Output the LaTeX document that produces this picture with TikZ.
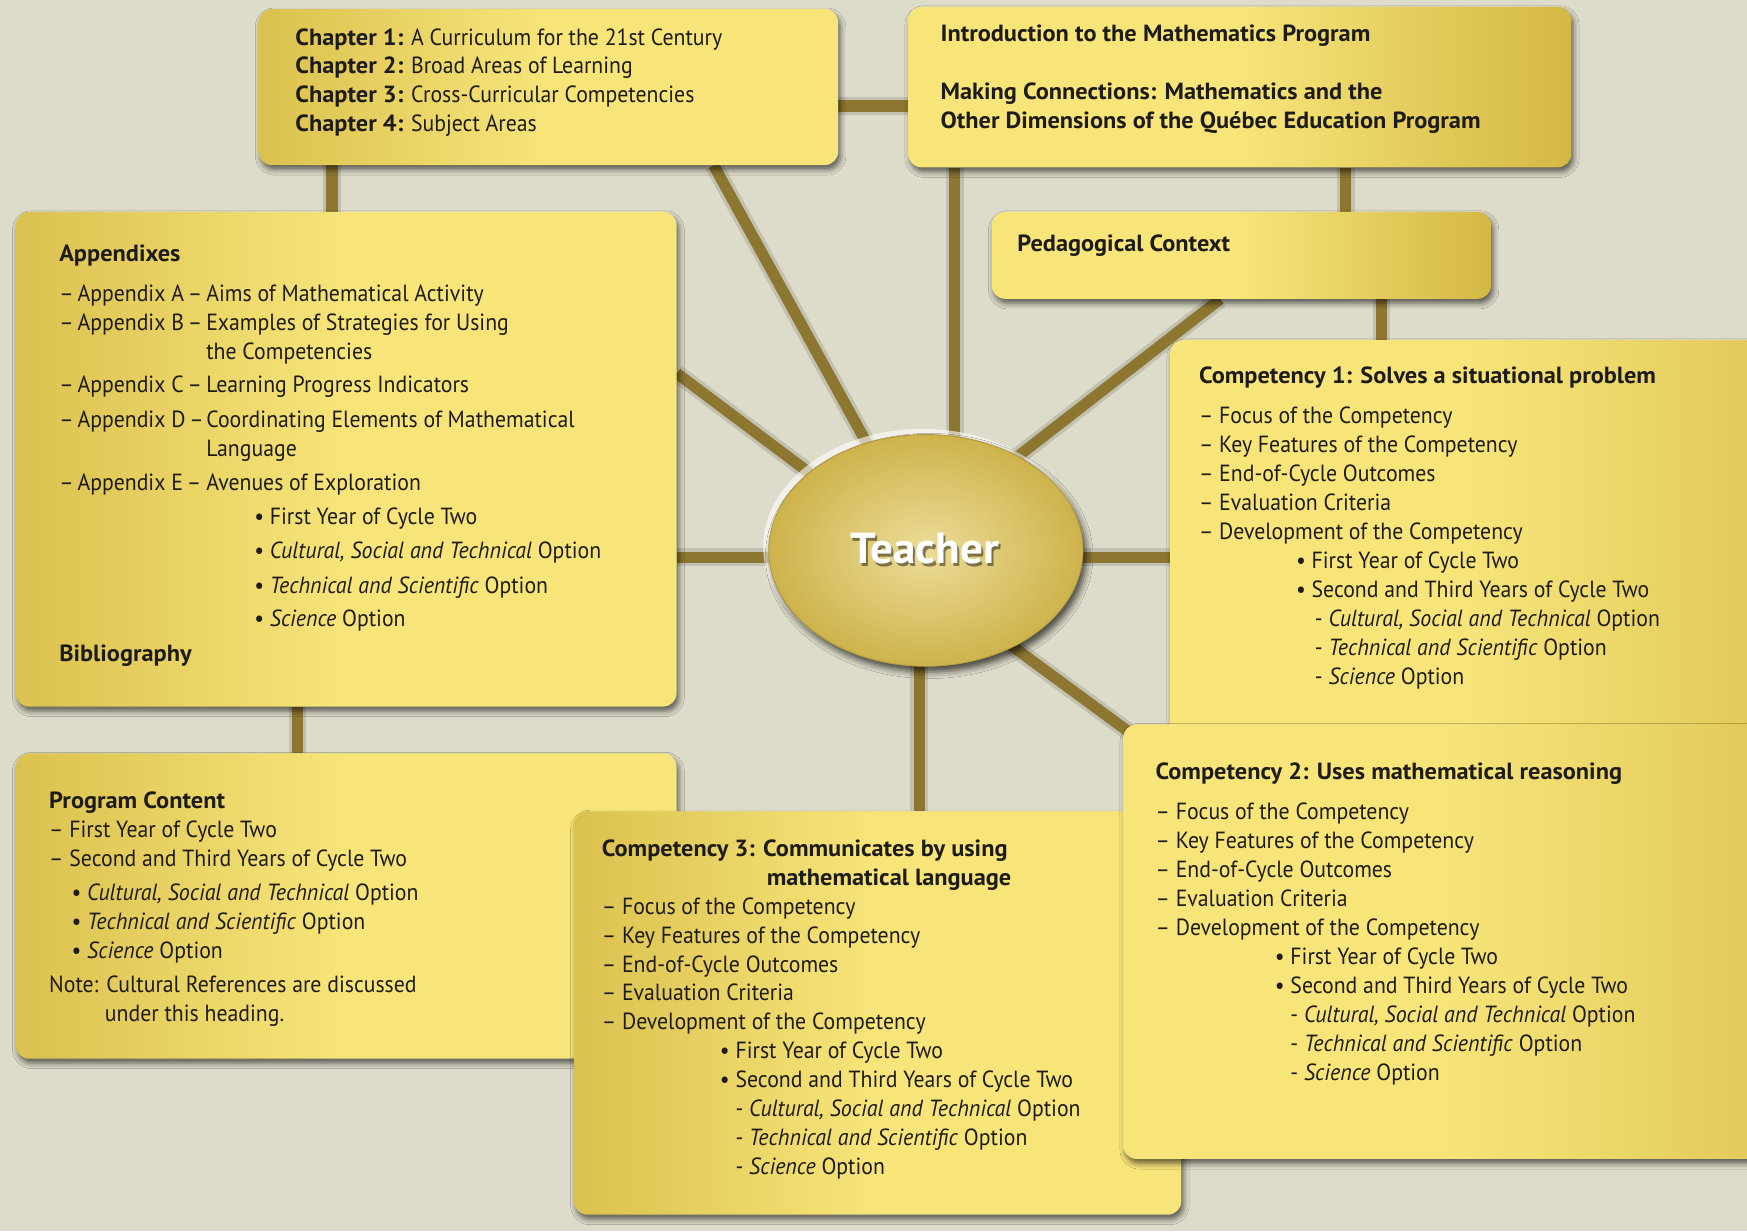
\documentclass[tikz,border=0pt]{standalone}
\usepackage{fontspec}
\setmainfont{PT Sans}[UprightFeatures={FakeStretch=0.93}, ItalicFeatures={FakeStretch=0.94},
  BoldFeatures={FakeStretch=1.04}, BoldItalicFeatures={FakeStretch=1.04}]
\usetikzlibrary{shapes.geometric,shadows.blur,calc}
\definecolor{bgcol}{RGB}{221,220,202}
\definecolor{spokecol}{RGB}{141,118,48}
\definecolor{ybright}{RGB}{247,229,122}
\definecolor{ydark}{RGB}{212,184,68}
\definecolor{ellout}{RGB}{206,179,76}
\definecolor{ellin}{RGB}{236,220,152}
\definecolor{txt}{RGB}{30,28,26}
\pgfdeclarelayer{bg}
\pgfsetlayers{bg,main}
\newcommand\applabel[1]{\makebox[132pt][l]{–\hspace{3.5pt}Appendix #1\hspace{3.5pt}–}}
\tikzset{
  box/.style={rounded corners=12pt, inner sep=0pt, anchor=north west,
    blur shadow={shadow xshift=2pt, shadow yshift=-4pt, shadow blur radius=5pt, shadow opacity=60}},
  darkleft/.style={left color=ydark!80!ybright, right color=ybright, middle color=ybright},
  darkright/.style={left color=ybright, right color=ydark, middle color=ybright},
  lightright/.style={left color=ybright, right color=ydark!60!ybright, middle color=ybright},
  body/.style={inner sep=0pt, anchor=north west, align=left, text=txt,
    font=\fontsize{21}{26}\selectfont},
  spoke/.style={draw=spokecol, line width=10pt},
  spokeshade/.style={draw=black, opacity=.12, line width=16pt},
  teacherfont/.style={font=\bfseries\fontsize{39}{40}\selectfont},
}
\begin{document}
\begin{tikzpicture}[x=1pt,y=-1pt]
\useasboundingbox (0,0) rectangle (1568,1105);

% boxes and their texts
\node[box, darkleft, minimum width=520pt, minimum height=140pt] (chap) at (232,8) {};
\node[body] (chaptxt) at (265,22) {\strut\textbf{Chapter 1:} A Curriculum for the 21st Century\\
  \textbf{Chapter 2:} Broad Areas of Learning\\
  \textbf{Chapter 3:} Cross-Curricular Competencies\\
  \textbf{Chapter 4:} Subject Areas};

\node[box, darkright, minimum width=595pt, minimum height=144pt] (intro) at (815,6) {};
\node[body, font=\bfseries\fontsize{21}{26}\selectfont] (introtxt) at (844,19) {\strut Introduction to the Mathematics Program\\[26pt]
  Making Connections: Mathematics and the\\
  Other Dimensions of the Québec Education Program};

\node[box, darkright, minimum width=448pt, minimum height=78pt] (ped) at (890,190) {};
\node[body, font=\bfseries\fontsize{21}{26}\selectfont] (pedtxt) at (913,207) {\strut Pedagogical Context};

\node[box, darkleft, minimum width=593pt, minimum height=444pt] (app) at (14,190) {};
\node[body] (apptxt) at (53,216) {\strut\textbf{Appendixes}\\[10pt]
  \applabel{A}Aims of Mathematical Activity\\
  \applabel{B}Examples of Strategies for Using\\
  \hspace*{132pt}the Competencies\\[4pt]
  \applabel{C}Learning Progress Indicators\\[5pt]
  \applabel{D}Coordinating Elements of Mathematical\\
  \hspace*{132pt}Language\\[5pt]
  \applabel{E}Avenues of Exploration\\[4pt]
  \hspace*{175pt}• First Year of Cycle Two\\[5pt]
  \hspace*{175pt}• \textit{Cultural, Social and Technical} Option\\[5pt]
  \hspace*{175pt}• \textit{Technical and Scientific} Option\\[4pt]
  \hspace*{175pt}• \textit{Science} Option\\[5pt]
  \textbf{Bibliography}};

\node[box, darkleft, minimum width=593pt, minimum height=274pt] (prog) at (14,676) {};
\node[body] (progtxt) at (44,707) {\strut\textbf{Program Content}\\
  – First Year of Cycle Two\\
  – Second and Third Years of Cycle Two\\[5pt]
  \hspace*{20pt}• \textit{Cultural, Social and Technical} Option\\
  \hspace*{20pt}• \textit{Technical and Scientific} Option\\
  \hspace*{20pt}• \textit{Science} Option\\[4pt]
  Note: Cultural References are discussed\\
  \hspace*{50pt}under this heading.};

\node[box, darkleft, minimum width=545pt, minimum height=362pt] (comp3) at (515,728) {};
\node[body] (comp3txt) at (540,750) {\strut\textbf{Competency 3: Communicates by using}\\
  \hspace*{148pt}\textbf{mathematical language}\\
  – Focus of the Competency\\
  – Key Features of the Competency\\
  – End-of-Cycle Outcomes\\
  – Evaluation Criteria\\
  – Development of the Competency\\
  \hspace*{106pt}• First Year of Cycle Two\\
  \hspace*{106pt}• Second and Third Years of Cycle Two\\
  \hspace*{120pt}- \textit{Cultural, Social and Technical} Option\\
  \hspace*{120pt}- \textit{Technical and Scientific} Option\\
  \hspace*{120pt}- \textit{Science} Option};

\node[box, lightright, minimum width=530pt, minimum height=370pt] (comp1) at (1050,305) {};
\node[body] (comp1txt) at (1076,326) {\strut\textbf{Competency 1: Solves a situational problem}\\[10pt]
  – Focus of the Competency\\
  – Key Features of the Competency\\
  – End-of-Cycle Outcomes\\
  – Evaluation Criteria\\
  – Development of the Competency\\
  \hspace*{87pt}• First Year of Cycle Two\\
  \hspace*{87pt}• Second and Third Years of Cycle Two\\
  \hspace*{104pt}- \textit{Cultural, Social and Technical} Option\\
  \hspace*{104pt}- \textit{Technical and Scientific} Option\\
  \hspace*{104pt}- \textit{Science} Option};

\node[box, lightright, minimum width=572pt, minimum height=390pt] (comp2) at (1008,650) {};
\node[body] (comp2txt) at (1037,681) {\strut\textbf{Competency 2: Uses mathematical reasoning}\\[10pt]
  – Focus of the Competency\\
  – Key Features of the Competency\\
  – End-of-Cycle Outcomes\\
  – Evaluation Criteria\\
  – Development of the Competency\\
  \hspace*{107pt}• First Year of Cycle Two\\
  \hspace*{107pt}• Second and Third Years of Cycle Two\\
  \hspace*{121pt}- \textit{Cultural, Social and Technical} Option\\
  \hspace*{121pt}- \textit{Technical and Scientific} Option\\
  \hspace*{121pt}- \textit{Science} Option};

% central ellipse
\node[ellipse, fill=white, opacity=.6, minimum width=286pt, minimum height=212pt] (teacherglow) at (828,491) {};
\node[ellipse, inner color=ellin, outer color=ellout, draw=ellout!85!black, line width=.8pt,
  minimum width=282pt, minimum height=208pt,
  blur shadow={shadow xshift=3pt, shadow yshift=-5pt, shadow blur radius=6pt, shadow opacity=70}] (teacher) at (831,494) {};
\node[teacherfont, text=black, opacity=.45] (teachershade) at (832,495) {Teacher};
\node[teacherfont, text=white] (teachertxt) at (830,492) {Teacher};

% connectors behind everything
\begin{pgfonlayer}{bg}
\fill[bgcol] (0,0) rectangle (1568,1105);
\foreach \sty in {spokeshade,spoke}{
  \draw[\sty] (teacher.center) -- ($(chap.south west)!0.785!(chap.south east)$);
  \draw[\sty] ([xshift=26pt]teacher.center) -- ([xshift=26pt]teacher.center |- intro.south);
  \draw[\sty] ([xshift=-26pt]teacher.center) -- ($(ped.south west)!0.4576!(ped.south east)$);
  \draw[\sty] ([yshift=-6pt]teacher.center) -- ([yshift=-6pt]teacher.center -| comp1.west);
  \draw[\sty] ([yshift=-29pt]teacher.center) -- ($(comp2.north west)+(42,34)$);
  \draw[\sty] ([xshift=-6pt]teacher.center) -- ([xshift=-6pt]teacher.center |- comp3.north);
  \draw[\sty] ([yshift=-6pt]teacher.center) -- ([yshift=-6pt]teacher.center -| app.east);
  \draw[\sty] ([yshift=-9pt]teacher.center) -- ($(app.north east)+(0,145)$);
  \draw[\sty] ([yshift=-17pt]chap.east) -- ([yshift=-17pt]chap.east -| intro.west);
  \draw[\sty] ([xshift=66pt]chap.south west) -- ([xshift=66pt]chap.south west |- app.north);
  \draw[\sty] ([xshift=393pt]intro.south west) -- ([xshift=393pt]intro.south west |- ped.north);
  \draw[\sty] ([xshift=350pt]ped.south west) -- ([xshift=350pt]ped.south west |- comp1.north);
  \draw[\sty] ([xshift=253pt]app.south west) -- ([xshift=253pt]app.south west |- prog.north);
}
\end{pgfonlayer}
\end{tikzpicture}
\end{document}
